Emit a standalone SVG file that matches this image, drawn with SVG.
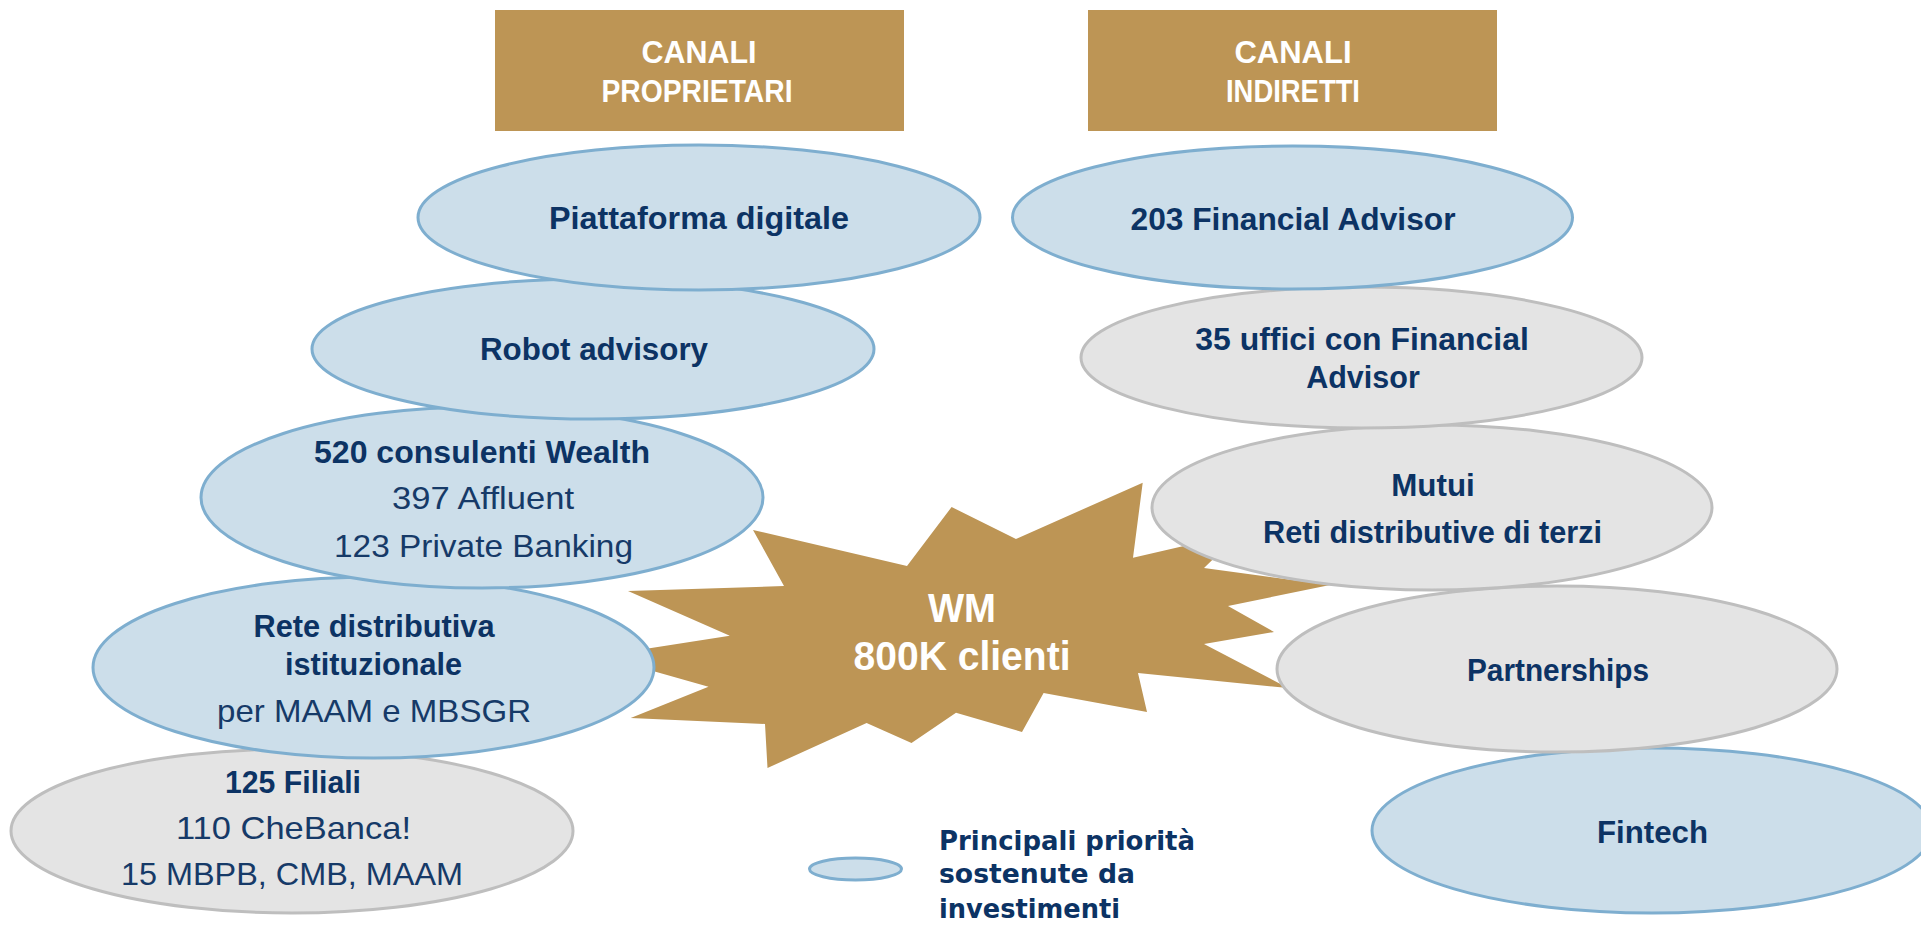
<svg xmlns="http://www.w3.org/2000/svg" width="1921" height="927" viewBox="0 0 1921 927">
  <style>
    .hdr { fill: #BD9555; }
    .hdr-t { font-family: "Liberation Sans", Arial, sans-serif; font-weight: bold; font-size: 31px; fill: #FFFFFF; text-anchor: middle; }
    .blue { fill: #CCDEEA; stroke: #7EAECF; stroke-width: 3; }
    .grey { fill: #E4E4E4; stroke: #BEBEBE; stroke-width: 3; }
    .b { font-family: "Liberation Sans", Arial, sans-serif; font-weight: bold; font-size: 32px; fill: #0C3364; text-anchor: middle; }
    .r { font-family: "Liberation Sans", Arial, sans-serif; font-size: 32px; fill: #163A68; text-anchor: middle; }
    .star { fill: #BD9555; }
    .star-t { font-family: "Liberation Sans", Arial, sans-serif; font-weight: bold; font-size: 40px; fill: #FFFFFF; text-anchor: middle; }
    .leg-t { font-family: "DejaVu Sans", Verdana, sans-serif; font-weight: bold; font-size: 27px; fill: #0C3364; }
  </style>

  <rect width="1921" height="927" fill="#FFFFFF"/>

  <!-- column headers -->
  <g id="hdr-proprietari">
    <rect class="hdr" x="495" y="10" width="409" height="121"/>
    <text class="hdr-t" x="699" y="63" textLength="115" lengthAdjust="spacingAndGlyphs">CANALI</text>
    <text class="hdr-t" x="697" y="102" textLength="191" lengthAdjust="spacingAndGlyphs">PROPRIETARI</text>
  </g>
  <g id="hdr-indiretti">
    <rect class="hdr" x="1088" y="10" width="409" height="121"/>
    <text class="hdr-t" x="1293" y="63" textLength="117" lengthAdjust="spacingAndGlyphs">CANALI</text>
    <text class="hdr-t" x="1293" y="102" textLength="134" lengthAdjust="spacingAndGlyphs">INDIRETTI</text>
  </g>

  <!-- central burst -->
  <g id="wm">
    <polygon class="star" points="753,530 907,566 951.6,507 1016,539 1142.7,482.7 1133,557.7 1240,533 1204,568 1330,585 1228,606 1274,632 1204,644 1288,688 1138,673 1147,712 1043.6,693 1022,732 956,712.7 911.5,743 866.6,723 767.5,768 765,724 630.7,718 708.5,686.7 600,656 729.8,635.7 628,591 784,586"/>
    <text class="star-t" x="962" y="622" textLength="68" lengthAdjust="spacingAndGlyphs">WM</text>
    <text class="star-t" x="962" y="670" textLength="217" lengthAdjust="spacingAndGlyphs">800K clienti</text>
  </g>

  <!-- proprietary channels (drawn bottom-up so upper ovals overlap lower ones) -->
  <g id="filiali">
    <ellipse class="grey" cx="292" cy="831" rx="281" ry="82"/>
    <text class="b" x="293" y="793" textLength="136" lengthAdjust="spacingAndGlyphs">125 Filiali</text>
    <text class="r" x="293.5" y="839" textLength="235" lengthAdjust="spacingAndGlyphs">110 CheBanca!</text>
    <text class="r" x="292" y="885" textLength="342" lengthAdjust="spacingAndGlyphs">15 MBPB, CMB, MAAM</text>
  </g>
  <g id="rete-istituzionale">
    <ellipse class="blue" cx="373.5" cy="667.5" rx="280.5" ry="90.5"/>
    <text class="b" x="374" y="637" textLength="241" lengthAdjust="spacingAndGlyphs">Rete distributiva</text>
    <text class="b" x="373.5" y="675" textLength="177" lengthAdjust="spacingAndGlyphs">istituzionale</text>
    <text class="r" x="374" y="722" textLength="314" lengthAdjust="spacingAndGlyphs">per MAAM e MBSGR</text>
  </g>
  <g id="consulenti-wealth">
    <ellipse class="blue" cx="482" cy="497.5" rx="281" ry="90.5"/>
    <text class="b" x="482" y="463" textLength="336" lengthAdjust="spacingAndGlyphs">520 consulenti Wealth</text>
    <text class="r" x="483" y="509" textLength="182" lengthAdjust="spacingAndGlyphs">397 Affluent</text>
    <text class="r" x="483.5" y="557" textLength="299" lengthAdjust="spacingAndGlyphs">123 Private Banking</text>
  </g>
  <g id="robot-advisory">
    <ellipse class="blue" cx="593" cy="349" rx="281" ry="70"/>
    <text class="b" x="594" y="360" textLength="228" lengthAdjust="spacingAndGlyphs">Robot advisory</text>
  </g>
  <g id="piattaforma-digitale">
    <ellipse class="blue" cx="699" cy="217.5" rx="281" ry="72.5"/>
    <text class="b" x="699" y="229" textLength="300" lengthAdjust="spacingAndGlyphs">Piattaforma digitale</text>
  </g>

  <!-- indirect channels -->
  <g id="fintech">
    <ellipse class="blue" cx="1652" cy="830.5" rx="280" ry="82.5"/>
    <text class="b" x="1652.5" y="843" textLength="111" lengthAdjust="spacingAndGlyphs">Fintech</text>
  </g>
  <g id="partnerships">
    <ellipse class="grey" cx="1557" cy="669" rx="280" ry="83"/>
    <text class="b" x="1558" y="681" textLength="182" lengthAdjust="spacingAndGlyphs">Partnerships</text>
  </g>
  <g id="mutui">
    <ellipse class="grey" cx="1432" cy="507.5" rx="280" ry="82.5"/>
    <text class="b" x="1433" y="496" textLength="83.5" lengthAdjust="spacingAndGlyphs">Mutui</text>
    <text class="b" x="1432.5" y="543" textLength="339" lengthAdjust="spacingAndGlyphs">Reti distributive di terzi</text>
  </g>
  <g id="uffici-fa">
    <ellipse class="grey" cx="1361.5" cy="357.5" rx="280.5" ry="70.5"/>
    <text class="b" x="1362" y="350" textLength="333.5" lengthAdjust="spacingAndGlyphs">35 uffici con Financial</text>
    <text class="b" x="1363" y="388" textLength="113.6" lengthAdjust="spacingAndGlyphs">Advisor</text>
  </g>
  <g id="financial-advisor">
    <ellipse class="blue" cx="1292.5" cy="217.5" rx="280" ry="71.5"/>
    <text class="b" x="1293" y="230" textLength="325" lengthAdjust="spacingAndGlyphs">203 Financial Advisor</text>
  </g>

  <!-- legend -->
  <g id="legend">
    <ellipse class="blue" cx="855.5" cy="869" rx="46" ry="11"/>
    <text class="leg-t" x="939" y="850" textLength="256" lengthAdjust="spacingAndGlyphs">Principali priorità</text>
    <text class="leg-t" x="939" y="883" textLength="196" lengthAdjust="spacingAndGlyphs">sostenute da</text>
    <text class="leg-t" x="939" y="918" textLength="181" lengthAdjust="spacingAndGlyphs">investimenti</text>
  </g>

  <!-- no connectors in this chart -->
  <g id="connectors"/>
</svg>
